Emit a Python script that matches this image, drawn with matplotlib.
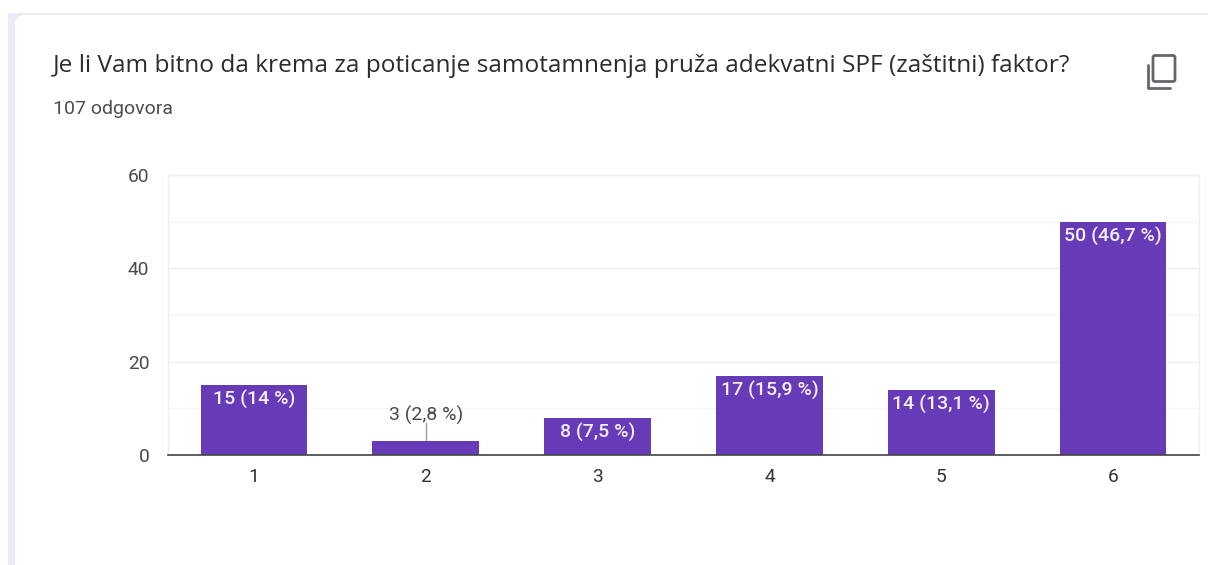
import matplotlib
matplotlib.use("Agg")
import matplotlib.pyplot as plt
from matplotlib.patches import FancyBboxPatch, Rectangle

categories = ["1", "2", "3", "4", "5", "6"]
values = [15, 3, 8, 17, 14, 50]
labels = ["15 (14 %)", "3 (2,8 %)", "8 (7,5 %)", "17 (15,9 %)", "14 (13,1 %)", "50 (46,7 %)"]
major_ticks = [0, 20, 40, 60]
minor_ticks = [10, 30, 50]
title = "Je li Vam bitno da krema za poticanje samotamnenja pruža adekvatni SPF (zaštitni) faktor?"
subtitle = "107 odgovora"

W, H = 1208, 565
PURPLE = "#673AB7"
fig = plt.figure(figsize=(W / 100, H / 100), dpi=100, facecolor="white")

# Pixel-space background layer
bg = fig.add_axes([0, 0, 1, 1], zorder=0)
bg.set_xlim(0, W); bg.set_ylim(H, 0); bg.axis("off")
bg.add_patch(Rectangle((8, 13), W, H, fc="#EDEAF6", ec="none"))
bg.add_patch(FancyBboxPatch((15, 15), W + 20, H + 20, boxstyle="round,pad=0,rounding_size=10",
                            fc="white", ec="none"))
bg.text(53, 66, title, fontsize=17.6, family="Open Sans", color="#2b2c30", va="center", ha="left")
bg.text(53, 108.5, subtitle, fontsize=14, family="Roboto", color="#4a4d52", va="center", ha="left")
# copy icon
bg.add_patch(FancyBboxPatch((1153, 55.5), 22, 26, boxstyle="round,pad=0,rounding_size=2",
                            fc="none", ec="#63676c", lw=2.0))
bg.plot([1148, 1148, 1170], [65, 87.5, 87.5], color="#63676c", lw=2.0, solid_capstyle="round",
        solid_joinstyle="round")

# Chart
ax = fig.add_axes([168 / W, 1 - 455 / H, (1199 - 168) / W, (455 - 175) / H], zorder=1)
ax.patch.set_alpha(0)
x = list(range(1, len(values) + 1))
ax.set_xlim(0.5, 6.5)
ax.set_ylim(0, 60)
ax.set_yticks(major_ticks)
ax.set_yticks(minor_ticks, minor=True)
ax.set_xticks(x)
ax.set_xticklabels(categories)
ax.grid(True, which="major", axis="y", color="#EFEFEF", lw=1)
ax.grid(True, which="minor", axis="y", color="#F6F6F6", lw=1)
ax.set_axisbelow(True)
for s in ["top", "left", "right"]:
    ax.spines[s].set_color("#EFEFEF")
    ax.spines[s].set_linewidth(1)
ax.spines["bottom"].set_color("#444444")
ax.spines["bottom"].set_linewidth(1.2)
ax.spines["bottom"].set_zorder(5)
ax.tick_params(which="both", length=0)
ax.tick_params(axis="x", pad=9.5, labelsize=13.8, labelcolor="#333333")
ax.tick_params(axis="y", pad=13.5, labelsize=13.8, labelcolor="#4a4a4a")
for t in ax.get_xticklabels() + ax.get_yticklabels():
    t.set_family("Roboto")

bars = ax.bar(x, values, width=0.62, color=PURPLE, zorder=3)
for xi, v, lab in zip(x, values, labels):
    if v < 5:
        ax.plot([xi, xi], [v, v + 3.9], color="#9E9E9E", lw=1, zorder=2)
        ax.annotate(lab, (xi, v + 3.9), xytext=(0, -1.5), textcoords="offset points", ha="center", va="bottom",
                    fontsize=14, family="Roboto", color="#4a4a4a")
    else:
        ax.annotate(lab, (xi, v), xytext=(0, -3.5), textcoords="offset points", ha="center", va="top",
                    fontsize=14, family="Roboto", color="#f2f0f8", fontweight="medium", zorder=4)

fig.savefig("out.png", dpi=100, facecolor="white")
